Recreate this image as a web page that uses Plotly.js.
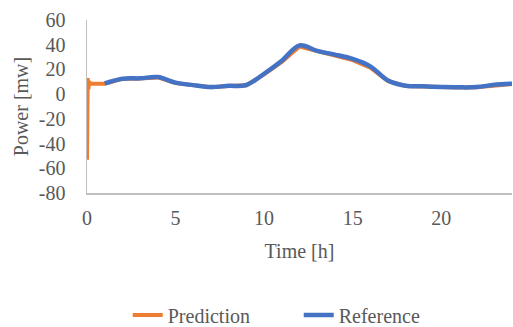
<!DOCTYPE html>
<html>
<head>
<meta charset="utf-8">
<script src="https://cdn.plot.ly/plotly-3.0.1.min.js"></script>
<style>
  html, body { margin: 0; padding: 0; background: #ffffff; }
  #chart { width: 513px; height: 327px; }
</style>
</head>
<body>
<div id="chart"></div>
<script>
// Hourly power profile: model prediction vs. reference measurement
const predTime  = [0, 0.04, 0.08, 0.12, 0.2, 1, 2, 3, 4, 5, 6, 7, 8, 9, 10, 11, 12, 13, 14, 15, 16, 17, 18, 19, 20, 21, 22, 23, 24];
const predPower = [-53, 13, 4, 10, 8.5, 8.5, 12.3, 12.6, 13.5, 8.9, 7.0, 5.6, 6.5, 7.2, 16, 26, 38.5, 34.5, 31.3, 27.5, 21.5, 10.5, 6.5, 6.2, 5.6, 5.4, 5.6, 7.3, 8.2];

const refTime  = [1, 2, 3, 4, 5, 6, 7, 8, 9, 10, 11, 12, 13, 14, 15, 16, 17, 18, 19, 20, 21, 22, 23, 24];
const refPower = [8.7, 12.5, 12.8, 13.8, 9.3, 7.3, 5.8, 6.7, 7.4, 16.5, 27, 39.5, 35, 32, 28.5, 22.5, 11, 6.8, 6.3, 5.8, 5.5, 5.7, 7.6, 8.5];

const xTicks = [0, 5, 10, 15, 20];
const yTicks = [-80, -60, -40, -20, 0, 20, 40, 60];

const fontFamily = 'Liberation Serif';
const textColor = '#595959';

const traces = [
  {
    x: predTime, y: predPower, name: 'Prediction', type: 'scatter', mode: 'lines',
    line: { color: '#ED7D31', width: 4, shape: 'linear' }
  },
  {
    x: refTime, y: refPower, name: 'Reference', type: 'scatter', mode: 'lines',
    line: { color: '#4472C4', width: 4.5, shape: 'spline', smoothing: 1 }
  }
];

const layout = {
  width: 513, height: 327,
  margin: { l: 87, r: 1, t: 20, b: 134, pad: 0 },
  paper_bgcolor: '#ffffff', plot_bgcolor: '#ffffff',
  font: { family: fontFamily, size: 20, color: textColor },
  showlegend: true,
  legend: {
    orientation: 'h',
    xref: 'container', yref: 'container',
    x: 0.249, xanchor: 'left',
    y: 1 - 315 / 327, yanchor: 'middle',
    entrywidth: 126, entrywidthmode: 'pixels',
    font: { family: fontFamily, size: 20, color: textColor },
    bgcolor: 'rgba(0,0,0,0)'
  },
  xaxis: {
    range: [0, 24], tickvals: xTicks, ticktext: xTicks.map(String),
    showgrid: false, zeroline: false,
    showline: true, linecolor: '#BFBFBF', linewidth: 1.5,
    ticks: '', ticklabelstandoff: 6,
    tickfont: { family: fontFamily, size: 20, color: textColor },
    title: { text: 'Time [h]', standoff: 16, font: { family: fontFamily, size: 20, color: textColor } },
    automargin: false, fixedrange: true
  },
  yaxis: {
    range: [-80, 60], tickvals: yTicks, ticktext: yTicks.map(String),
    showgrid: false, zeroline: false,
    showline: true, linecolor: '#BFBFBF', linewidth: 1.5,
    ticks: '', ticklabelstandoff: 16,
    tickfont: { family: fontFamily, size: 20, color: textColor },
    title: { text: 'Power [mw]', standoff: 5, font: { family: fontFamily, size: 20, color: textColor } },
    automargin: false, fixedrange: true
  }
};

Plotly.newPlot('chart', traces, layout, { displayModeBar: false, staticPlot: true });
</script>
</body>
</html>
